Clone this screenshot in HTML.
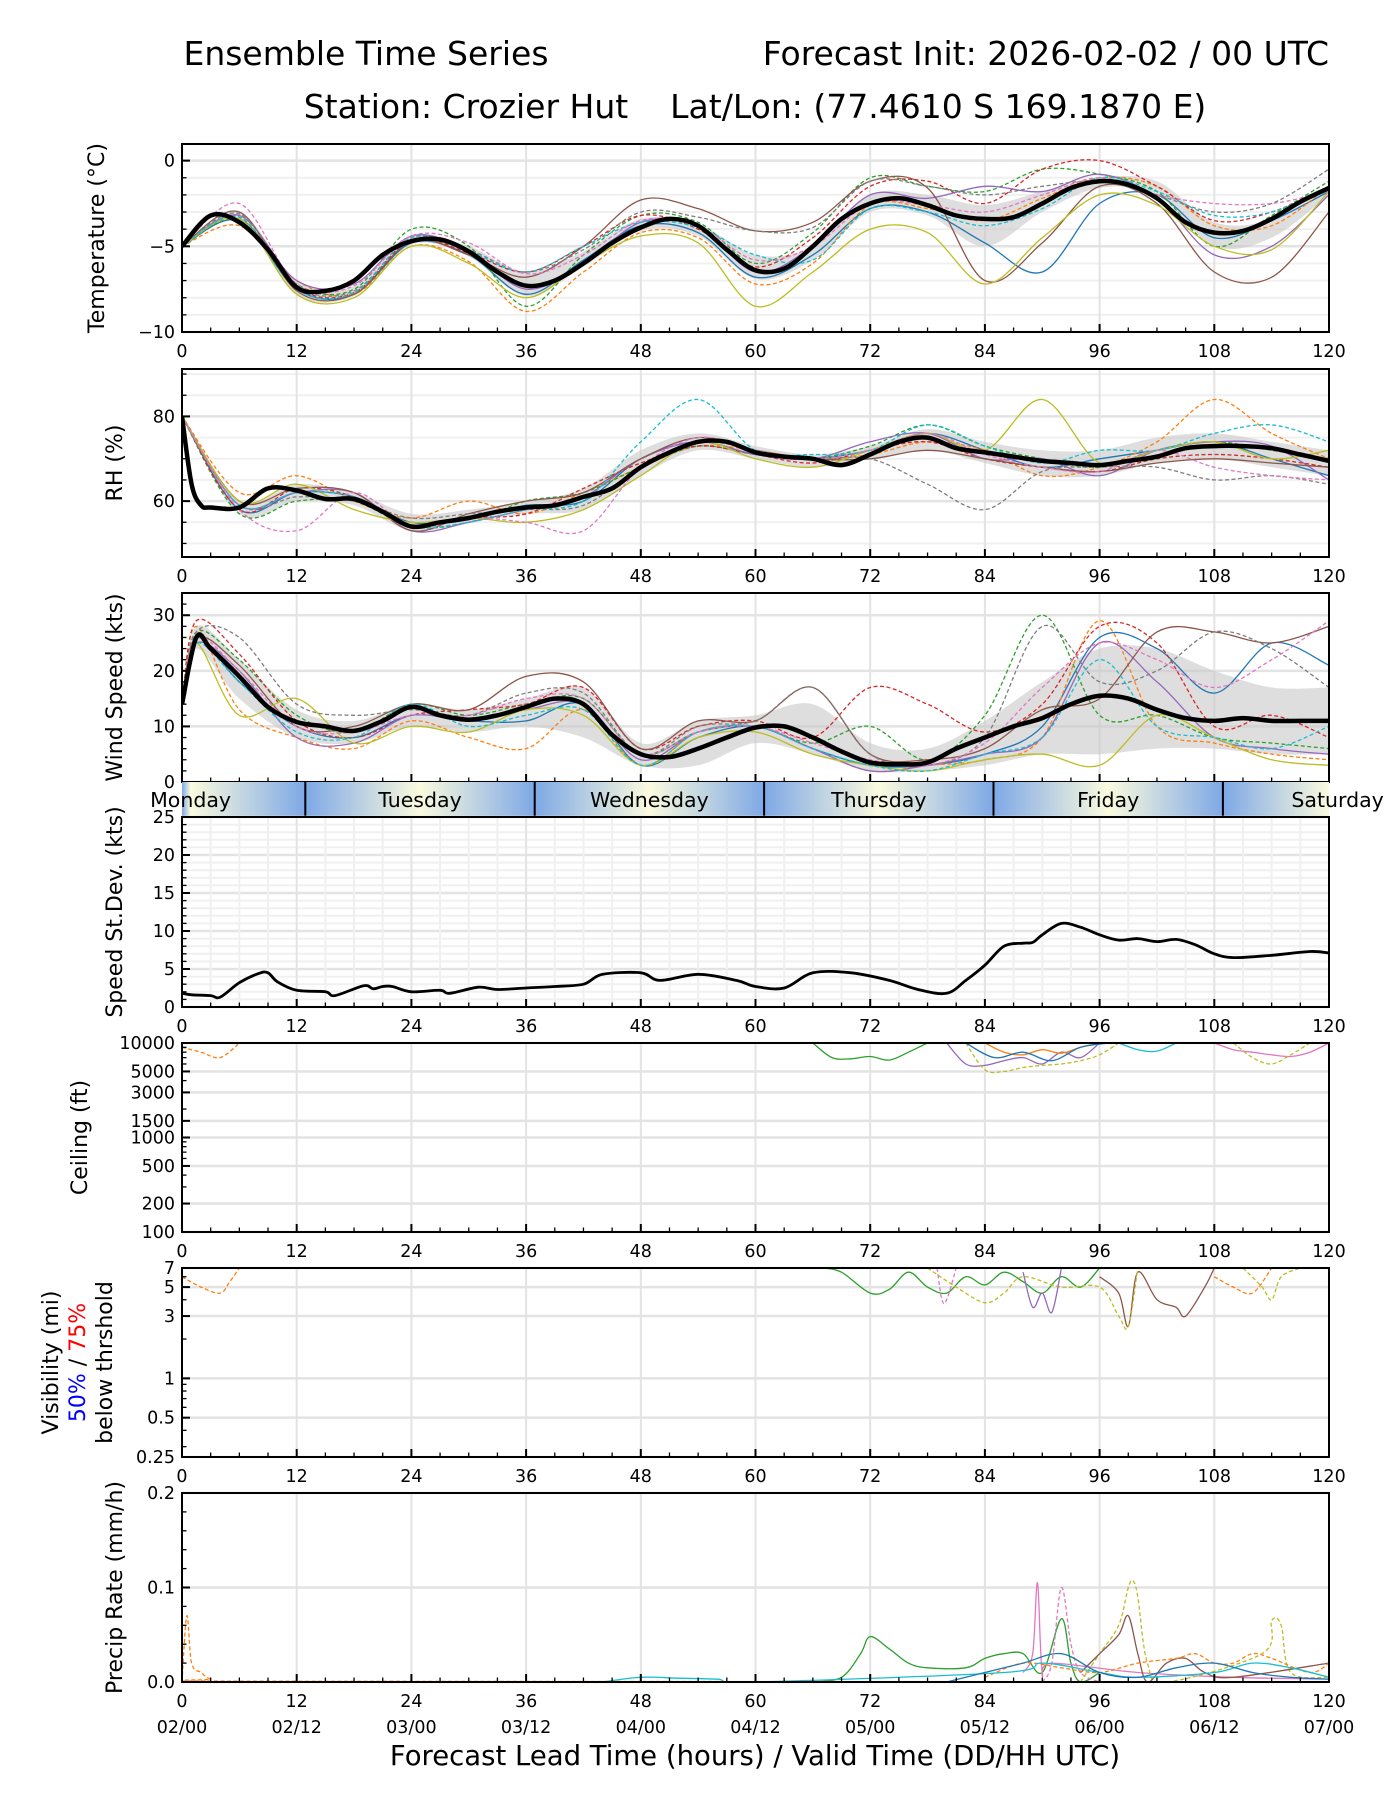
<!DOCTYPE html>
<html><head><meta charset="utf-8"><style>
html,body{margin:0;padding:0;background:#fff;}
svg{display:block;font-family:"DejaVu Sans","Liberation Sans",sans-serif;}
</style></head><body>
<svg id="chart" width="1400" height="1800" viewBox="0 0 1400 1800" xmlns="http://www.w3.org/2000/svg">
<text x="366" y="65" font-size="33" text-anchor="middle">Ensemble Time Series</text>
<text x="1329" y="65" font-size="33" text-anchor="end">Forecast Init: 2026-02-02 / 00 UTC</text>
<text x="755" y="118" font-size="33" text-anchor="middle">Station: Crozier Hut&#160;&#160;&#160;&#160;Lat/Lon: (77.4610 S 169.1870 E)</text>
<text x="755" y="1765" font-size="27.5" text-anchor="middle">Forecast Lead Time (hours) / Valid Time (DD/HH UTC)</text>
</svg>
<script>
// ---------- data ----------
const memberColors=['#1f77b4','#ff7f0e','#2ca02c','#d62728','#9467bd','#8c564b','#bcbd22','#7f7f7f','#17becf','#e377c2'];
const memberDashed=[false,true,true,true,false,false,false,true,true,true];
const xTickHours=[0,12,24,36,48,60,72,84,96,108,120];
const validLabels=['02/00','02/12','03/00','03/12','04/00','04/12','05/00','05/12','06/00','06/12','07/00'];
const dayNames=['Monday','Tuesday','Wednesday','Thursday','Friday','Saturday'];
const dayBoundaries=[12.9,36.9,60.9,84.9,108.9];

const h3=[0,3,6,9,12,15,18,21,24,27,30,33,36,39,42,45,48,51,54,57,60,63,66,69,72,75,78,81,84,87,90,93,96,99,102,105,108,111,114,117,120];
const h6=[0,6,12,18,24,30,36,42,48,54,60,66,72,78,84,90,96,102,108,114,120];
const rhMeanHours=[0,1,2,3,6,9,12,15,18,21,24,27,30,33,36,39,42,45,48,51,54,57,60,63,66,69,72,75,78,81,84,87,90,93,96,99,102,105,108,111,114,117,120];

const tempMean=[-5,-3.2,-3.6,-5.2,-7.4,-7.6,-7.0,-5.5,-4.7,-4.6,-5.3,-6.5,-7.3,-7.0,-6.0,-4.8,-3.9,-3.4,-3.8,-5.2,-6.4,-6.3,-5.0,-3.4,-2.5,-2.2,-2.6,-3.2,-3.4,-3.3,-2.5,-1.6,-1.2,-1.4,-2.2,-3.6,-4.2,-4.1,-3.4,-2.4,-1.6];
const tempLo=[-5,-3.6,-7.8,-7.9,-4.9,-5.6,-7.9,-6.2,-4.1,-4.4,-6.9,-5.8,-3.0,-3.2,-5.0,-3.0,-1.6,-2.0,-5.0,-4.5,-2.0];
const tempHi=[-5,-3.0,-7.0,-7.3,-4.4,-5.0,-6.5,-5.3,-3.4,-3.7,-5.5,-5.0,-2.0,-2.0,-2.6,-1.8,-1.0,-1.2,-3.6,-3.4,-1.4];
const tempMembers=[
[-5,-3.5,-7.5,-7.8,-4.8,-5.5,-7.8,-5.8,-3.8,-4.2,-6.8,-5.5,-2.8,-3.0,-4.8,-6.5,-2.5,-2.0,-4.5,-3.5,-1.8],
[-5,-3.8,-7.0,-7.8,-5.0,-5.9,-8.8,-6.5,-4.2,-4.5,-7.2,-6.0,-2.6,-2.8,-3.5,-2.2,-1.0,-1.5,-3.8,-3.8,-1.5],
[-5,-3.4,-7.2,-7.5,-4.0,-5.0,-8.5,-5.5,-3.2,-3.6,-6.0,-4.2,-1.0,-1.5,-1.8,-0.5,-0.8,-1.8,-5.0,-3.2,-1.2],
[-5,-3.3,-7.4,-7.7,-4.6,-5.4,-6.5,-5.0,-3.2,-4.0,-6.2,-4.5,-1.5,-1.2,-2.5,-0.5,0.0,-1.5,-3.5,-3.0,-1.5],
[-5,-3.2,-7.0,-7.2,-4.4,-5.3,-7.5,-6.0,-3.6,-3.8,-6.5,-5.0,-2.0,-2.2,-1.5,-1.8,-0.8,-2.2,-5.5,-5.0,-2.0],
[-5,-3.0,-7.6,-7.8,-4.7,-5.5,-6.8,-5.0,-2.3,-2.8,-4.1,-3.6,-1.2,-1.6,-7.0,-4.8,-1.5,-2.5,-6.5,-6.8,-3.0],
[-5,-3.4,-7.8,-8.0,-5.0,-6.0,-8.0,-6.0,-4.4,-4.8,-8.5,-6.5,-4.0,-4.2,-7.2,-4.5,-2.0,-2.6,-5.0,-5.2,-1.8],
[-5,-3.1,-7.3,-7.6,-4.5,-5.2,-6.5,-5.2,-3.0,-3.3,-4.1,-3.9,-1.2,-1.5,-2.0,-1.5,-1.2,-2.0,-3.0,-2.5,-0.5],
[-5,-3.3,-7.5,-7.7,-4.5,-5.3,-6.5,-5.0,-3.6,-3.9,-5.5,-5.8,-2.8,-3.0,-3.8,-2.8,-1.0,-1.8,-3.2,-3.0,-1.5],
[-5,-2.5,-7.2,-7.3,-4.4,-4.8,-6.6,-5.5,-3.5,-3.8,-5.8,-5.0,-2.5,-2.6,-3.0,-2.0,-1.0,-2.0,-2.5,-2.5,-1.8]];

const rhMean=[80,64,59,58.5,58.5,63,62.5,60.5,60.5,57.5,54,55,56,57.5,58.5,59,61,63,68,71.5,74,74,71.5,70.5,70,68.5,71,74,75,72.5,71.5,70.5,69.5,69,68.5,69.5,70.5,72.5,73,73,72.5,71,69.5];
const rhLo=[80,57,60,59,53,55,57,58,66,72,70,68,70,72,69,66,66,69,70,68,66];
const rhHi=[80,60,64,62,57,58,60,63,72,76,73,71,73,77,74,72,72,75,76,74,72];
const rhMembers=[
[80,58,62,61,55,56,59,60,70,74,71,70,72,76,72,68,70,72,74,70,66],
[80,62,66,60,56,60,57,62,68,73,72,70,71,74,72,66,68,74,84,76,70],
[80,57,60,60,54,55,60,62,68,73,71,70,73,78,73,70,68,72,74,72,70],
[80,58,63,61,54,56,57,63,69,73,71,69,72,74,70,68,67,70,71,70,68],
[80,59,62,62,53,55,58,61,70,74,71,70,74,76,70,70,66,72,74,73,65],
[80,60,63,62,53,57,60,62,70,75,72,70,70,72,70,68,67,69,70,69,68],
[80,60,64,58,55,56,55,58,66,74,70,68,72,76,72,84,69,72,74,70,72],
[80,59,61,60,56,57,58,59,68,74,72,70,70,64,58,67,68,68,65,66,64],
[80,59,62,61,54,55,58,60,74,84,72,71,72,78,73,69,72,72,76,78,74],
[80,58,53,62,54,56,55,53,68,75,72,70,72,76,71,68,67,72,68,66,65]];

const windMeanHours=[0,1.5,3,6,9,12,15,18,21,24,27,30,33,36,39,42,45,48,51,54,57,60,63,66,69,72,75,78,81,84,87,90,93,96,99,102,105,108,111,114,117,120];
const windMean=[14,26,24,19,13.5,10.8,10,9.2,11,13.5,12,11.2,12,13.5,15,14,8.5,5,4.5,6,8,9.8,10,8,5.5,3.5,3.2,3.5,6,8,10,11.5,14,15.5,15,13,11.5,11,11.5,11,11,11];
const windHours=[0,1.5,6,12,18,24,30,36,42,48,54,60,66,72,78,84,90,96,102,108,114,120];
const windLo=[14,24,15,8,7,10,9,10,8,3,3,7,5,2,2,3,5,5,6,6,5,5];
const windHi=[14,28,22,13,11,14,13,15,17,7,11,12,14,7,6,11,18,24,24,20,17,17];
const windMembers=[
[14,26,18,10,8,12,11,11,14,3,8,10,6,3,3,5,10,26,24,16,25,21],
[14,28,13,8,6,11,8,6,13,3,9,10,6,2,3,4,8,29,10,7,5,4],
[14,27,22,12,9,14,12,14,15,5,9,10,7,10,4,12,30,12,12,8,7,6],
[14,29,23,11,8,12,13,14,17,6,10,11,8,17,14,9,14,28,25,10,12,8],
[14,25,20,8,7,12,11,13,14,4,9,10,6,2,3,5,8,25,18,8,6,5],
[14,26,21,10,10,14,13,19,18,6,11,11,17,5,4,6,13,15,27,27,25,28],
[14,25,12,15,7,10,9,13,12,3,8,9,5,3,2,4,5,3,12,8,4,3],
[14,27,26,14,12,13,12,16,16,5,10,11,17,5,3,8,28,18,20,27,24,17],
[14,25,18,9,8,14,10,12,13,3,9,10,6,3,2,5,8,22,10,8,6,10],
[14,26,20,10,9,12,12,15,15,5,9,10,7,4,3,7,17,25,22,17,22,29]];

const sdHours=[0,1,3,4,6,8,9,10,12,15,16,19,20,21,22,24,27,28,31,33,36,39,42,44,48,50,54,58,60,63,66,70,74,77,80,82,84,86,88,89,90,92,94,96,98,100,102,104,106,108,110,114,118,120];
const sdValues=[1.8,1.6,1.5,1.3,3.2,4.4,4.5,3.3,2.2,2.0,1.5,2.8,2.4,2.7,2.7,2.0,2.2,1.8,2.6,2.3,2.5,2.7,3.0,4.3,4.5,3.5,4.3,3.5,2.7,2.5,4.5,4.5,3.5,2.3,1.8,3.5,5.5,8.0,8.4,8.5,9.5,11,10.5,9.5,8.8,9.0,8.6,8.9,8.2,7.0,6.5,6.8,7.3,7.1];

const ceilHours=[[0,2,4,6],[66,68,70,72,74,76,78],[80,82,84,86,88,90,92,94,96],[82,84,86,88,90,92,94,96,98],[84,86,88,90,92,94,96],[82,85,88,91,94,97],[98,100,102,104],[108,110,112,114,116,118,120],[110,112,114,116,118]];
const ceilValues=[[9000,8000,7000,10000],[10000,7000,6800,7200,6600,8000,10000],[10000,6000,5800,6500,7000,6000,8000,7000,10000],[10000,5200,5000,5500,5800,6000,6500,7500,10000],[10000,8000,7500,8500,7800,9000,10000],[10000,7000,8000,6500,9000,10000],[10000,8500,8200,10000],[10000,8500,8000,7500,7200,8000,10000],[10000,7000,6000,7500,10000]];
const ceilColors=['#ff7f0e','#2ca02c','#9467bd','#bcbd22','#ff7f0e','#1f77b4','#17becf','#e377c2','#bcbd22'];
const ceilDashed=[true,false,false,true,false,false,false,false,true];

const visHours=[[0,2,4,5,6],[67,69,72,74,76,78,80,82,84,86,88,90,92,94,96],[96,98,99,100,102,104,105,107,108],[78,81,84,86,88,92,96,98,99,100],[111,113,114,115,117],[79,79.5,80,81],[88,89,90,91,92],[108,110,112,114]];
const visValues=[[6,5,4.5,5.5,7],[7,6.5,4.5,4.8,6.5,5,4.5,6,5.2,6.5,5.5,4.5,6,5,7],[6,4.5,2.5,6.5,4,3.5,3,5,7],[7,5,3.8,4.5,6,5,5,3,2.5,7],[7,5,4,6,7],[7,4,4,7],[6.5,3.5,4.5,3.2,7],[6,5,4.5,7]];
const visColors=['#ff7f0e','#2ca02c','#8c564b','#bcbd22','#bcbd22','#e377c2','#9467bd','#ff7f0e'];
const visDashed=[true,false,false,true,true,true,false,true];

const precHours=[[66,69,71,72,74,76,78,82,84,86,88,90,92,93,94,96],[88,89,89.5,90,91,100,110,120],[90,91,92,93,94,96],[94,96,98,99,99.5,100,101,103,113,114,115,116,120],[94,96,98,99,100,101,103,105,107,110,120],[84,88,92,96,100,104,106,108,110,112,114,118,120],[44,48,52,56,60,86,90,96,100,108,112,116,120],[80,84,88,92,96,100,104,108,112,116,120],[0,0.5,1,2,3,5,120]];
const precValues=[[0,0.005,0.03,0.048,0.035,0.02,0.015,0.015,0.025,0.03,0.03,0.01,0.067,0.02,0,0.01],[0.01,0.03,0.105,0.01,0.02,0.01,0.005,0.003],[0,0.02,0.1,0.04,0.01,0],[0,0.03,0.06,0.1,0.107,0.09,0.02,0,0.03,0.065,0.06,0.01,0.005],[0.01,0.03,0.05,0.07,0.03,0,0.02,0.025,0.01,0.005,0.02],[0.005,0.02,0.015,0.01,0.02,0.025,0.03,0.02,0.02,0.03,0.025,0.01,0.02],[0,0.005,0.004,0.003,0,0.01,0.02,0.01,0.005,0.01,0.02,0.015,0.005],[0,0.01,0.02,0.03,0.01,0.005,0.015,0.02,0.01,0.005,0.003],[0,0.07,0.02,0.01,0.003,0.001,0]];
const precColors=['#2ca02c','#e377c2','#e377c2','#bcbd22','#8c564b','#ff7f0e','#17becf','#1f77b4','#ff7f0e'];
const precDashed=[false,false,true,true,false,true,false,false,true];

// ---------- drawing ----------
const NS='http://www.w3.org/2000/svg';
const svg=document.getElementById('chart');
const X0=182,X1=1329;
function xs(h){return X0+(X1-X0)*h/120;}
function mk(tag,attrs,parent){const e=document.createElementNS(NS,tag);for(const k in attrs)e.setAttribute(k,attrs[k]);(parent||svg).appendChild(e);return e;}
function smooth(pts){
  if(!pts.length)return'';let d='M'+pts[0][0].toFixed(1)+','+pts[0][1].toFixed(1);
  for(let i=0;i<pts.length-1;i++){const p0=pts[i-1]||pts[i],p1=pts[i],p2=pts[i+1],p3=pts[i+2]||p2;
    const c1=[p1[0]+(p2[0]-p0[0])/6,p1[1]+(p2[1]-p0[1])/6],c2=[p2[0]-(p3[0]-p1[0])/6,p2[1]-(p3[1]-p1[1])/6];
    d+='C'+c1[0].toFixed(1)+','+c1[1].toFixed(1)+' '+c2[0].toFixed(1)+','+c2[1].toFixed(1)+' '+p2[0].toFixed(1)+','+p2[1].toFixed(1);}
  return d;}
let clipId=0;
function panel(name,top,bot,yfun,majors,majorLabels,minors,minorGrid,ylabel,ylabelX,showXLabels){
  const g=mk('g',{});
  
  
  minorGrid.forEach(v=>{const y=yfun(v);const l=mk('line',{x1:X0,x2:X1,y1:y,y2:y,stroke:'#f0f0f0','stroke-width':2},g);});
  xTickHours.forEach(h=>{const l=mk('line',{x1:xs(h),x2:xs(h),y1:top,y2:bot,stroke:'#e3e3e3','stroke-width':2},g);});
  majors.forEach(v=>{const y=yfun(v);const l=mk('line',{x1:X0,x2:X1,y1:y,y2:y,stroke:'#e3e3e3','stroke-width':2.5},g);});
  const cid='clip'+(clipId++);
  const cp=mk('clipPath',{id:cid},g);mk('rect',{x:X0,y:top,width:X1-X0,height:bot-top},cp);
  const data=mk('g',{'clip-path':'url(#'+cid+')'},g);
  for(let h=0;h<=120;h+=3){const maj=h%12===0;const t=mk('line',{x1:xs(h),x2:xs(h),y1:bot,y2:bot-(maj?8:4.5),stroke:'#000','stroke-width':maj?2:1.3},g);}
  if(showXLabels!==false) xTickHours.forEach(h=>{const t=mk('text',{x:xs(h),y:bot+25,'font-size':17.5,'text-anchor':'middle'},g);t.textContent=h;});
  majors.forEach((v,i)=>{const y=yfun(v);const t=mk('line',{x1:X0,x2:X0+8,y1:y,y2:y,stroke:'#000','stroke-width':2},g);
    const tl=mk('text',{x:X0-7,y:y+6,'font-size':17.5,'text-anchor':'end'},g);tl.textContent=majorLabels[i];});
  minors.forEach(v=>{const y=yfun(v);const t=mk('line',{x1:X0,x2:X0+4.5,y1:y,y2:y,stroke:'#000','stroke-width':1.3},g);});
  const fr=mk('rect',{x:X0,y:top,width:X1-X0,height:bot-top,fill:'none',stroke:'#000','stroke-width':2},g);
  
  if(ylabel){const cy=(top+bot)/2;const t=mk('text',{x:ylabelX,y:cy,'font-size':22,'text-anchor':'middle',transform:'rotate(-90 '+ylabelX+' '+cy+')'},g);t.textContent=ylabel;}
  return {g,data};
}
function linY(lo,hi,top,bot){return v=>bot-(v-lo)/(hi-lo)*(bot-top);}
function range(a,b,s){const r=[];for(let v=a;v<=b+1e-9;v+=s)r.push(+v.toFixed(4));return r;}
function drawBand(data,hours,lo,hi,yf,name){
  const up=hours.map((h,i)=>[xs(h),yf(hi[i])]);const dn=hours.map((h,i)=>[xs(h),yf(lo[i])]).reverse();
  const sd=smooth(dn);
  const d=smooth(up)+'L'+dn[0][0]+','+dn[0][1]+sd.slice(sd.indexOf('C'))+'Z';
  const p=mk('path',{d,fill:'#c8c8c8','fill-opacity':0.6,stroke:'none'},data);
  }
function drawLine(data,hours,vals,yf,color,dashed,width,name){
  const p=mk('path',{d:smooth(hours.map((h,i)=>[xs(h),yf(vals[i])])),fill:'none',stroke:color,'stroke-width':width,'stroke-dasharray':dashed?'4,2.5':'none','stroke-linejoin':'round'},data);
  }

// Temperature
{const top=144,bot=332,yf=linY(-10,0.97,top,bot);
 const P=panel('temperature',top,bot,yf,[0,-5,-10],['0','\u22125','\u221210'],range(-10,0,1),range(-10,0,1),'Temperature (\u00B0C)',104);
 drawBand(P.data,h6,tempLo,tempHi,yf,'temperature');
 tempMembers.forEach((m,i)=>drawLine(P.data,h6,m,yf,memberColors[i],memberDashed[i],1.3,'temperature-member-line'));
 drawLine(P.data,h3,tempMean,yf,'#000',false,4.5,'temperature-mean-line');}
// RH
{const top=369,bot=557,yf=linY(46.8,91.2,top,bot);
 const P=panel('rh',top,bot,yf,[60,80],['60','80'],range(50,90,5),range(50,90,5),'RH (%)',122);
 drawBand(P.data,h6,rhLo,rhHi,yf,'rh');
 rhMembers.forEach((m,i)=>drawLine(P.data,h6,m,yf,memberColors[i],memberDashed[i],1.3,'rh-member-line'));
 drawLine(P.data,rhMeanHours,rhMean,yf,'#000',false,4.5,'rh-mean-line');}
// Wind
{const top=593,bot=782,yf=linY(0,34,top,bot);
 const P=panel('wind-speed',top,bot,yf,[0,10,20,30],['0','10','20','30'],range(0,34,2),[],'Wind Speed (kts)',122,false);
 drawBand(P.data,windHours,windLo,windHi,yf,'wind');
 windMembers.forEach((m,i)=>drawLine(P.data,windHours,m,yf,memberColors[i],memberDashed[i],1.3,'wind-member-line'));
 drawLine(P.data,windMeanHours,windMean,yf,'#000',false,4.5,'wind-mean-line');}
// Day bar
{const top=782,bot=817;
 const defs=mk('defs',{});const lg=mk('linearGradient',{id:'daygrad',x1:X0,x2:X1,y1:0,y2:0,gradientUnits:'userSpaceOnUse'},defs);
 for(let h=dayBoundaries[0]-24;h<=132;h+=12){const k=Math.round((h-dayBoundaries[0])/12);const off=Math.min(1,Math.max(0,h/120));
   mk('stop',{offset:off,'stop-color':(k%2===0)?'#7ea8e6':'#fbfbde'},lg);}
 const r=mk('rect',{x:X0,y:top,width:X1-X0,height:bot-top,fill:'url(#daygrad)'});
 dayBoundaries.forEach(b=>{const l=mk('line',{x1:xs(b),x2:xs(b),y1:top,y2:bot,stroke:'#000','stroke-width':2});});
 dayNames.forEach((n,i)=>{const c=(i===0?dayBoundaries[0]:dayBoundaries[i-1]+24)-12;const t=mk('text',{x:xs(c),y:top+25,'font-size':20.5,'text-anchor':'middle'});t.textContent=n;});}
// Stdev
{const top=817,bot=1007,yf=linY(0,25,top,bot);
 const P=panel('speed-stdev',top,bot,yf,[0,5,10,15,20,25],['0','5','10','15','20','25'],range(0,25,1),range(0,25,1),'Speed St.Dev. (kts)',122);
 const vl=mk('g',{},P.data);
 for(let h=3;h<120;h+=3){if(h%12===0)continue;const l=mk('line',{x1:xs(h),x2:xs(h),y1:top,y2:bot,stroke:'#f0f0f0','stroke-width':2},vl);}
 drawLine(P.data,sdHours,sdValues,yf,'#000',false,2.8,'speed-stdev-line');}
// Ceiling (log)
{const top=1043,bot=1232,yf=v=>top+(4-Math.log10(v))/2*(bot-top);
 const mins=[];[100,1000].forEach(b=>{for(let k=2;k<=9;k++)mins.push(b*k);});
 const P=panel('ceiling',top,bot,yf,[100,200,500,1000,1500,3000,5000,10000],['100','200','500','1000','1500','3000','5000','10000'],mins,[],'Ceiling (ft)',87);
 ceilHours.forEach((hs,i)=>drawLine(P.data,hs,ceilValues[i],yf,ceilColors[i],ceilDashed[i],1.3,'ceiling-member-line'));}
// Visibility (log)
{const top=1268,bot=1457,L0=Math.log(0.25),L1=Math.log(7),yf=v=>bot-(Math.log(v)-L0)/(L1-L0)*(bot-top);
 const P=panel('visibility',top,bot,yf,[0.25,0.5,1,3,5,7],['0.25','0.5','1','3','5','7'],[0.3,0.4,0.6,0.7,0.8,0.9,2,4,6],[],null,0);
 visHours.forEach((hs,i)=>drawLine(P.data,hs,visValues[i],yf,visColors[i],visDashed[i],1.3,'visibility-member-line'));
 const cy=(top+bot)/2;
 const t1=mk('text',{x:58,y:cy,'font-size':22,'text-anchor':'middle',transform:'rotate(-90 58 '+cy+')'});t1.textContent='Visibility (mi)';
 const t2=mk('text',{x:85,y:cy,'font-size':22,'text-anchor':'middle',transform:'rotate(-90 85 '+cy+')'});
 const s1=mk('tspan',{fill:'#0000ff'},t2);s1.textContent='50%';const s2=mk('tspan',{},t2);s2.textContent=' / ';const s3=mk('tspan',{fill:'#ff0000'},t2);s3.textContent='75%';
 const t3=mk('text',{x:112,y:cy,'font-size':22,'text-anchor':'middle',transform:'rotate(-90 112 '+cy+')'});t3.textContent='below thrshold';}
// Precip
{const top=1493,bot=1682,yf=linY(0,0.2,top,bot);
 const P=panel('precip',top,bot,yf,[0,0.1,0.2],['0.0','0.1','0.2'],range(0,0.2,0.02),[],'Precip Rate (mm/h)',122);
 precHours.forEach((hs,i)=>drawLine(P.data,hs,precValues[i].map(v=>Math.max(0,v)),yf,precColors[i],precDashed[i],1.3,'precip-member-line'));
 xTickHours.forEach((h,i)=>{const t=mk('text',{x:xs(h),y:bot+51,'font-size':17.5,'text-anchor':'middle'});t.textContent=validLabels[i];});}
</script>
</body></html>
